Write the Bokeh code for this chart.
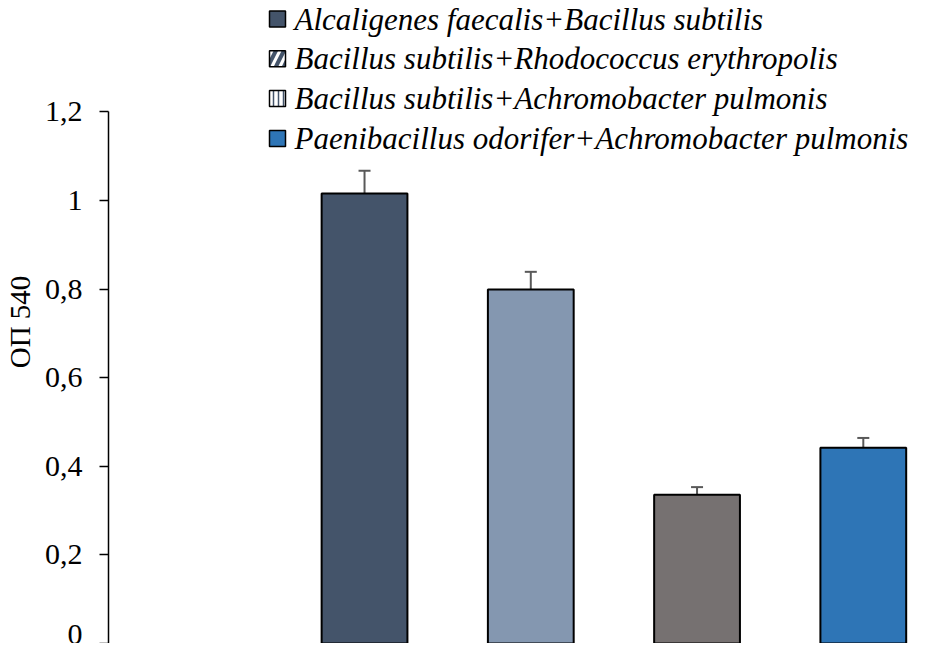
from bokeh.plotting import figure
from bokeh.models import (ColumnDataSource, Range1d, FixedTicker, Whisker, TeeHead,
                          CustomJSTickFormatter, Label, BoxAnnotation)
from bokeh.embed import file_html
from bokeh.resources import INLINE

# ---- data ----
categories = [
    "Alcaligenes faecalis+Bacillus subtilis",
    "Bacillus subtilis+Rhodococcus erythropolis",
    "Bacillus subtilis+Achromobacter pulmonis",
    "Paenibacillus odorifer+Achromobacter pulmonis",
]
positions = [1, 2, 3, 4]
values = [1.016, 0.799, 0.336, 0.442]
errors = [0.051, 0.040, 0.017, 0.022]
bar_colors = ["#44546A", "#8497B0", "#767171", "#2E75B6"]
tick_values = [0, 0.2, 0.4, 0.6, 0.8, 1.0, 1.2]
tick_labels = ["0", "0,2", "0,4", "0,6", "0,8", "1", "1,2"]
y_label = "ОП 540"

FONT = "Liberation Serif"

src = ColumnDataSource(dict(
    x=positions, top=values, color=bar_colors,
    upper=[v + e for v, e in zip(values, errors)],
    lower=[v - e for v, e in zip(values, errors)],
))

p = figure(width=916, height=643, output_backend="svg", toolbar_location=None,
           x_range=Range1d(-0.540, 4.320), y_range=Range1d(0, 1.4515),
           x_axis_location=None, min_border_left=101, min_border_right=0,
           min_border_top=0, min_border_bottom=0)
p.outline_line_color = None
p.grid.visible = False

p.vbar(x="x", top="top", width=0.516, bottom=0, source=src, fill_color="color",
       line_color="black", line_width=2)

w = Whisker(source=src, base="x", upper="upper", lower="lower",
            line_color="#595959", line_width=2,
            upper_head=TeeHead(size=12, line_color="#595959", line_width=2),
            lower_head=TeeHead(size=12, line_color="#595959", line_width=2))
p.add_layout(w)

ax = p.yaxis[0]
ax.ticker = FixedTicker(ticks=tick_values)
ax.formatter = CustomJSTickFormatter(code="return tick.toString().replace('.', ',');")
ax.major_label_overrides = {t: l for t, l in zip(tick_values, tick_labels)}
ax.bounds = (0, 1.2)
ax.axis_line_color = "black"
ax.axis_line_width = 1.5
ax.major_tick_line_color = "black"
ax.major_tick_line_width = 1.5
ax.major_tick_out = 9
ax.major_tick_in = 0
ax.minor_tick_line_color = None
ax.major_label_standoff = 17
ax.major_label_text_font = FONT
ax.major_label_text_font_size = "30px"
ax.major_label_text_color = "black"
ax.axis_label = y_label
ax.axis_label_text_font = FONT
ax.axis_label_text_font_size = "29px"
ax.axis_label_text_font_style = "normal"
ax.axis_label_text_color = "black"
ax.axis_label_standoff = 6

# ---- legend (drawn by hand: swatch boxes + italic serif labels) ----
swatch_styles = [
    dict(fill_color="#44546A"),
    dict(fill_color="white", hatch_pattern="/", hatch_color="#44546A",
         hatch_scale=16, hatch_weight=4),
    dict(fill_color="white", hatch_pattern="|", hatch_color="#44546A",
         hatch_scale=5, hatch_weight=1.5),
    dict(fill_color="#2E75B6"),
]
LEG_X = 161        # swatch left, px from frame left
ROW0 = 624.5       # first row centre, px above frame bottom
ROW_STEP = 39.8
SW = 16
for i, (name, st) in enumerate(zip(categories, swatch_styles)):
    yc = ROW0 - i * ROW_STEP
    p.add_layout(BoxAnnotation(left=LEG_X, right=LEG_X + SW,
                               bottom=yc - SW / 2, top=yc + SW / 2,
                               left_units="screen", right_units="screen",
                               top_units="screen", bottom_units="screen",
                               fill_alpha=1, line_color="black", line_width=1.5,
                               line_alpha=1, **st))
    p.add_layout(Label(x=LEG_X + SW + 9, y=yc, x_units="screen", y_units="screen",
                       text=name, text_font=FONT, text_font_style="italic",
                       text_font_size="31px", text_color="black",
                       text_baseline="middle", text_align="left"))

open("out.html", "w").write(file_html(p, INLINE))
